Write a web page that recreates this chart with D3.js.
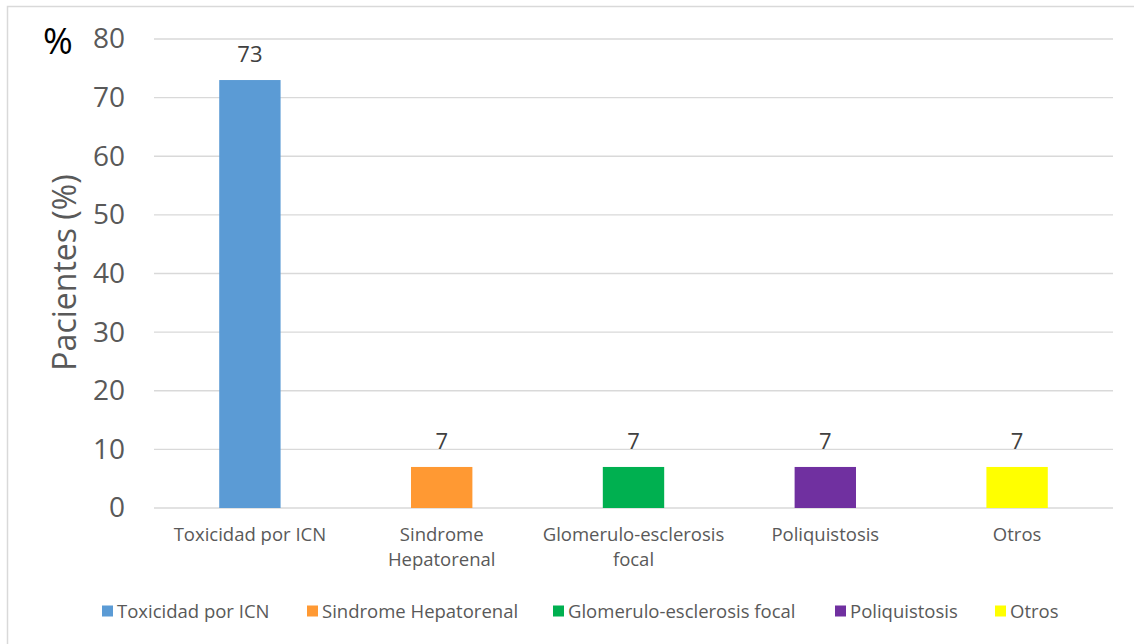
<!DOCTYPE html>
<html>
<head>
<meta charset="utf-8">
<script src="https://cdn.jsdelivr.net/npm/d3@7"></script>
<style>
  html, body { margin: 0; padding: 0; background: #fff; }
  svg { display: block; font-family: "Open Sans", "Noto Sans", sans-serif; }
</style>
</head>
<body>
<svg id="chart" width="1134" height="644"></svg>
<script>
// Causes of renal failure, share of patients (%)
const categories = ["Toxicidad por ICN", "Sindrome Hepatorenal", "Glomerulo-esclerosis focal", "Poliquistosis", "Otros"];
const axisLabels = [["Toxicidad por ICN"], ["Sindrome", "Hepatorenal"], ["Glomerulo-esclerosis", "focal"], ["Poliquistosis"], ["Otros"]];
const values = [73, 7, 7, 7, 7];
const colors = ["#5b9bd5", "#ff9933", "#00b050", "#7030a0", "#ffff00"];
const yTicks = [0, 10, 20, 30, 40, 50, 60, 70, 80];

const svg = d3.select("#chart");
const W = 1134, H = 644;
const margin = { left: 154, right: 21, top: 39, bottom: 136 };

// outer frame
svg.append("rect")
  .attr("x", 7.5).attr("y", 6.5)
  .attr("width", W + 10).attr("height", H + 10)
  .attr("fill", "none").attr("stroke", "#d9d9d9").attr("stroke-width", 1.5);

const x = d3.scaleBand()
  .domain(categories)
  .range([margin.left, W - margin.right])
  .paddingInner(0.68).paddingOuter(0.34);

const y = d3.scaleLinear()
  .domain([0, 80])
  .range([H - margin.bottom, margin.top]);

// gridlines
const grid = svg.append("g").attr("class", "grid");
grid.selectAll("line")
  .data(yTicks)
  .join("line")
  .attr("x1", margin.left).attr("x2", W - margin.right)
  .attr("y1", d => y(d)).attr("y2", d => y(d))
  .attr("stroke", "#d9d9d9").attr("stroke-width", 1.3);

// y axis ticks
const yAxis = d3.axisLeft(y).tickValues(yTicks).tickSize(0).tickPadding(29);
const yg = svg.append("g")
  .attr("transform", `translate(${margin.left},0)`)
  .call(yAxis);
yg.select(".domain").remove();
yg.selectAll("text")
  .attr("font-size", 28)
  .attr("fill", "#595959")
  .attr("font-family", "Open Sans, sans-serif");

// bars
svg.append("g").selectAll("rect")
  .data(values)
  .join("rect")
  .attr("x", (d, i) => x(categories[i]))
  .attr("y", d => y(d))
  .attr("width", x.bandwidth())
  .attr("height", d => y(0) - y(d))
  .attr("fill", (d, i) => colors[i]);

// value labels
svg.append("g").selectAll("text")
  .data(values)
  .join("text")
  .attr("x", (d, i) => x(categories[i]) + x.bandwidth() / 2)
  .attr("y", d => y(d) - 18)
  .attr("text-anchor", "middle")
  .attr("font-size", 22)
  .attr("fill", "#404040")
  .text(d => d);

// category labels
const catG = svg.append("g");
categories.forEach((c, i) => {
  const cx = x(c) + x.bandwidth() / 2;
  const t = catG.append("text")
    .attr("x", cx)
    .attr("y", y(0) + 33)
    .attr("text-anchor", "middle")
    .attr("font-size", 18.5)
    .attr("fill", "#595959");
  axisLabels[i].forEach((line, j) => {
    t.append("tspan").attr("x", cx).attr("dy", j === 0 ? 0 : 25).text(line);
  });
});

// y axis title
svg.append("text")
  .attr("transform", `translate(76, ${y(40) - 1}) rotate(-90)`)
  .attr("text-anchor", "middle")
  .attr("font-size", 32)
  .attr("fill", "#595959")
  .text("Pacientes (%)");

// unit mark
svg.append("text")
  .attr("x", 43).attr("y", 54)
  .attr("font-size", 36)
  .attr("fill", "#000")
  .text("%");

// legend
const legendX = [102, 307, 553, 835, 995];
const lg = svg.append("g");
categories.forEach((c, i) => {
  const g = lg.append("g").attr("transform", `translate(${legendX[i]}, 611)`);
  g.append("rect").attr("x", 0).attr("y", -5.5).attr("width", 11).attr("height", 11).attr("fill", colors[i]);
  g.append("text").attr("x", 15).attr("y", 6.5)
    .attr("font-size", 18.5).attr("fill", "#595959").text(c);
});
</script>
</body>
</html>
